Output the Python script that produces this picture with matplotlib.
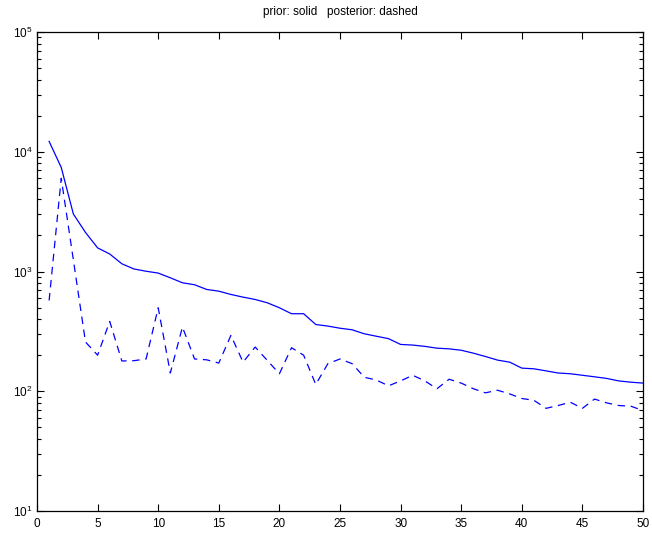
import matplotlib
matplotlib.use("Agg")
import matplotlib.pyplot as plt
import numpy as np
from matplotlib.ticker import LogLocator

plt.rcParams['font.family'] = ['Liberation Sans', 'DejaVu Sans']

x = list(range(1, 51))
prior = [12200, 7400, 3020, 2120, 1575, 1400, 1160, 1050, 1005, 970,
         886, 805, 775, 708, 685, 643, 611, 584, 548, 498,
         444, 444, 361, 350, 336, 326, 302, 288, 275, 246,
         243, 237, 229, 226, 220, 208, 195, 182, 175, 156,
         154, 148, 142, 140, 136, 132, 128, 122, 119, 117]
posterior = [573, 6000, 1250, 258, 200, 383, 179, 180, 186, 498,
             142, 344, 186, 183, 172, 293, 175, 234, 181, 140,
             231, 200, 114, 170, 186, 170, 131, 124, 111, 122,
             136, 122, 105, 126, 117, 105, 97, 102, 95, 87,
             84, 72, 76, 81, 72, 86, 80, 76, 75, 69]

xticks = [0, 5, 10, 15, 20, 25, 30, 35, 40, 45, 50]
title = "prior: solid   posterior: dashed"

fig = plt.figure(figsize=(6.52, 5.34), dpi=100)
ax = fig.add_axes([37/652, 1-511/534, (643-37)/652, (511-32)/534])
ax.plot(x, prior, color='#0000ff', lw=0.9)
ax.plot(x, posterior, color='#0000ff', lw=0.9, linestyle=(0, (6, 4.5)))
ax.set_yscale('log')
ax.set_xlim(0, 50)
ax.set_ylim(10, 1e5)
ax.set_xticks(xticks)
ax.set_xticklabels([str(t) for t in xticks])
ax.yaxis.set_major_locator(LogLocator(base=10, numticks=10))
ax.yaxis.set_minor_locator(LogLocator(base=10, subs=np.arange(2, 10), numticks=20))
ax.tick_params(which='both', direction='in', top=True, right=True, labelsize=8.5, color='black', width=0.8)
ax.tick_params(which='major', length=5)
ax.tick_params(axis='x', which='major', pad=5)
ax.tick_params(axis='y', which='major', pad=3)
ax.tick_params(which='minor', length=3)
for s in ax.spines.values():
    s.set_linewidth(0.9)
ax.set_title(title, fontsize=8.5, pad=12)
fig.savefig("out.png", dpi=100, facecolor='white')
